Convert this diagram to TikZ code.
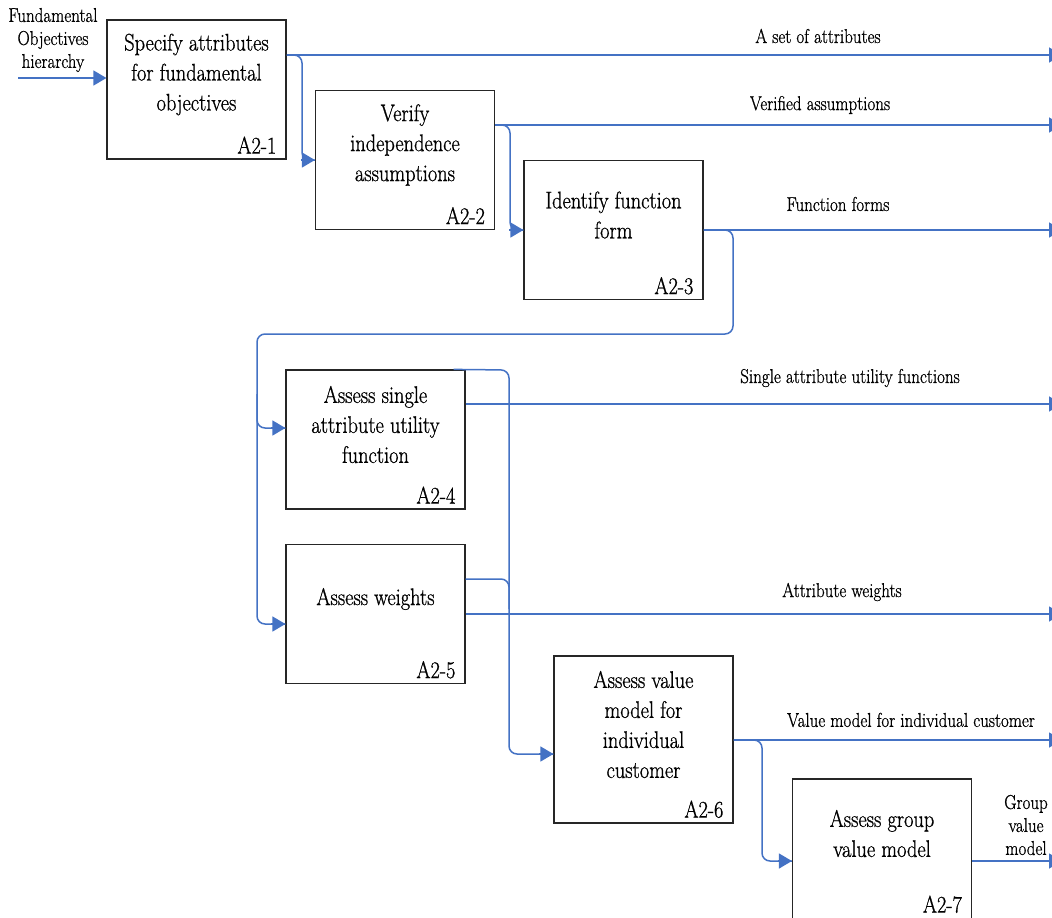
\documentclass[tikz,border=0pt]{standalone}
\usepackage{fontspec}
\setmainfont{Latin Modern Roman}[FakeStretch=0.85,FakeBold=0.8]
\usetikzlibrary{arrows.meta,calc}
\definecolor{flowblue}{HTML}{4472C4}
\begin{document}
\begin{tikzpicture}[x=1pt,y=-1pt,
  stepbox/.style={draw=black!85,line width=1.2pt,minimum width=179pt,minimum height=139pt,inner sep=0pt,fill=white},
  boxtext/.style={align=center,font=\fontsize{24}{30}\selectfont,inner sep=0pt},
  boxid/.style={anchor=base east,font=\fontsize{24}{30}\selectfont,inner sep=0pt},
  flowlabel/.style={align=center,font=\fontsize{20}{23}\selectfont,inner sep=0pt},
  flow/.style={draw=flowblue,line width=1.5pt,rounded corners=8pt},
  tip/.style={-{Triangle[length=13pt,width=15pt]}}
]
\useasboundingbox (0,0) rectangle (1052,918);
\clip (0,0) rectangle (1052,918);

% activity boxes
\node[stepbox] (b1) at (196.5,89.5) {};
\node[stepbox] (b2) at (405,160) {};
\node[stepbox] (b3) at (613.5,230) {};
\node[stepbox] (b4) at (375.5,439.5) {};
\node[stepbox] (b5) at (375.5,614) {};
\node[stepbox,minimum height=167pt] (b6) at (643.5,739.5) {};
\node[stepbox,minimum height=142pt] (b7) at (882,850) {};

% box titles
\node[boxtext] (t1) at ($(b1.center)+(0,-15)$) {Specify attributes\\for fundamental\\objectives};
\node[boxtext] (t2) at ($(b2.center)+(0,-15)$) {Verify\\independence\\assumptions};
\node[boxtext] (t3) at ($(b3.center)+(0,-15)$) {Identify function\\form};
\node[boxtext] (t4) at ($(b4.center)+(0,-15)$) {Assess single\\attribute utility\\function};
\node[boxtext] (t5) at ($(b5.center)+(0,-15)$) {Assess weights};
\node[boxtext] (t6) at ($(b6.center)+(0,-15)$) {Assess value\\model for\\individual\\customer};
\node[boxtext] (t7) at ($(b7.center)+(0,-16.5)$) {Assess group\\value model};

% box numbers
\node[boxid] (n1) at ($(b1.south east)+(-10,-6)$) {A2-1};
\node[boxid] (n2) at ($(b2.south east)+(-10,-6)$) {A2-2};
\node[boxid] (n3) at ($(b3.south east)+(-10,-6)$) {A2-3};
\node[boxid] (n4) at ($(b4.south east)+(-10,-6)$) {A2-4};
\node[boxid] (n5) at ($(b5.south east)+(-10,-6)$) {A2-5};
\node[boxid] (n6) at ($(b6.south east)+(-10,-6)$) {A2-6};
\node[boxid] (n7) at ($(b7.south east)+(-10,-9)$) {A2-7};

% flow labels
\node[flowlabel] (lin) at (53,40) {Fundamental\\Objectives\\hierarchy};
\node[flowlabel] (l1) at (818,36) {A set of attributes};
\node[flowlabel] (l2) at (820,105) {Verified assumptions};
\node[flowlabel] (l3) at (838,204) {Function forms};
\node[flowlabel] (l4) at (850,378) {Single attribute utility functions};
\node[flowlabel] (l5) at (842,592) {Attribute weights};
\node[flowlabel] (l6) at (911,720) {Value model for individual customer};
\node[flowlabel] (l7) at (1026,825) {Group\\value\\model};

% connector ends and bends
\coordinate (src) at (18,78);
\coordinate (o1) at (1062,55);
\coordinate (o2) at (1062,125);
\coordinate (o3) at (1062,230);
\coordinate (o4) at (1062,404);
\coordinate (o5) at (1062,614);
\coordinate (o6) at (1062,740);
\coordinate (o7) at (1062,861);
\coordinate (j1) at (302,55);
\coordinate (j2) at (510,125);
\coordinate (j3a) at (733,230);
\coordinate (j3b) at (733,334);
\coordinate (j3c) at (257,334);
\coordinate (j4) at (509,370);
\coordinate (j6) at (762,740);
\coordinate (e4) at ($(b4.west)+(0,-11.5)$);
\coordinate (e5) at ($(b5.west)+(0,10)$);
\coordinate (e6) at ($(b6.west)+(0,14.5)$);
\coordinate (e7) at ($(b7.west)+(0,11)$);
\coordinate (s5) at ($(b5.east)+(0,-35)$);

% input
\draw[flow,tip] (src) -- (src -| b1.west);

% outputs to the right edge
\draw[flow,tip] (o1 -| b1.east) -- (o1);
\draw[flow,tip] (o2 -| b2.east) -- (o2);
\draw[flow,tip] (b3.east) -- (o3);
\draw[flow,tip] (o4 -| b4.east) -- (o4);
\draw[flow,tip] (b5.east) -- (o5);
\draw[flow,tip] (o6 -| b6.east) -- (o6);
\draw[flow,tip] (o7 -| b7.east) -- (o7);

% feeds between activities
\draw[flow] (o1 -| b1.east) -- (j1) -- (j1 |- b2.west) -- (b2.west);
\draw[flow,tip] ($(b2.west)+(-14,0)$) -- (b2.west);

\draw[flow] (o2 -| b2.east) -- (j2) -- (j2 |- b3.west) -- (b3.west);
\draw[flow,tip] ($(b3.west)+(-14,0)$) -- (b3.west);

\draw[flow] (b3.east) -- (j3a) -- (j3b) -- (j3c) -- (j3c |- e5) -- (e5);
\draw[flow] ($(j3c)+(0,60)$) -- (j3c |- e4) -- (e4);
\draw[flow,tip] ($(e4)+(-14,0)$) -- (e4);
\draw[flow,tip] ($(e5)+(-14,0)$) -- (e5);

\draw[flow] ($(b4.north east)+(-12,0)$) -- (j4) -- (j4 |- e6) -- (e6);
\draw[flow] (s5) -- (s5 -| j4) -- ($(s5 -| j4)+(0,30)$);
\draw[flow,tip] ($(e6)+(-14,0)$) -- (e6);

\draw[flow] (o6 -| b6.east) -- (j6) -- (j6 |- e7) -- (e7);
\draw[flow,tip] ($(e7)+(-14,0)$) -- (e7);
\end{tikzpicture}
\end{document}
